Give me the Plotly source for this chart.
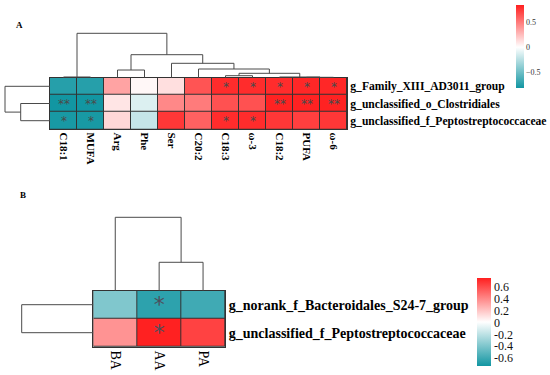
import plotly.graph_objects as go

# ---------------- data ----------------
colsA = ["C18:1", "MUFA", "Arg", "Phe", "Ser", "C20:2", "C18:3", "ω-3", "C18:2", "PUFA", "ω-6"]
rowsA = ["g_Family_XIII_AD3011_group", "g_unclassified_o_Clostridiales",
         "g_unclassified_f_Peptostreptococcaceae"]
valsA = [
    [-0.75, -0.75, 0.35, 0.03, 0.12, 0.65, 0.80, 0.80, 0.80, 0.82, 0.82],
    [-0.84, -0.84, 0.10, -0.12, 0.45, 0.50, 0.66, 0.66, 0.84, 0.84, 0.84],
    [-0.80, -0.80, 0.15, -0.20, 0.76, 0.60, 0.80, 0.80, 0.76, 0.73, 0.76],
]
starsA = [
    ["", "", "", "", "", "", "*", "*", "*", "*", "*"],
    ["**", "**", "", "", "", "", "", "", "**", "**", "**"],
    ["*", "*", "", "", "", "", "*", "*", "", "", ""],
]
# linkage: (left, right, height); ints refer to earlier merges (by index)
colLinkA = [("C18:1", "MUFA", 0.016), ("PUFA", "ω-6", 0.009), ("C18:2", 1, 0.016),
            ("C18:3", "ω-3", 0.045), ("Arg", "Phe", 0.173), (3, 2, 0.099),
            ("C20:2", 5, 0.196), ("Ser", 6, 0.324), (4, 7, 0.518), (0, 8, 1.0)]
rowLinkA = [(rowsA[1], rowsA[2], 0.651), (rowsA[0], 0, 1.0)]

colsB = ["BA", "AA", "PA"]
rowsB = ["g_norank_f_Bacteroidales_S24-7_group", "g_unclassified_f_Peptostreptococcaceae"]
valsB = [
    [-0.40, -0.66, -0.60],
    [0.36, 0.74, 0.63],
]
starsB = [["", "*", ""], ["", "*", ""]]
colLinkB = [("AA", "PA", 0.387), ("BA", 0, 1.0)]
rowLinkB = [(rowsB[0], rowsB[1], 1.0)]

W, H = 550, 375
LOW, HIGH = "#1296a2", "#ff1f1f"
SERIF = "Liberation Serif"


def px_x(a, b):
    return [a / W, b / W]


def px_y(top, bottom):
    return [1 - bottom / H, 1 - top / H]


def dendro_lines(leaves, links):
    pos = {name: i for i, name in enumerate(leaves)}
    hgt = {name: 0.0 for name in leaves}
    xs, ys = [], []
    for k, (a, b, h) in enumerate(links):
        pa, pb = pos[a], pos[b]
        ha, hb = hgt[a], hgt[b]
        xs += [pa, pa, pb, pb, None]
        ys += [ha, h, h, hb, None]
        pos[k] = (pa + pb) / 2
        hgt[k] = h
    return xs, ys


def cscale(zmin, zmax):
    mid = -zmin / (zmax - zmin)
    return [[0, LOW], [mid, "#ffffff"], [1, HIGH]]


fig = go.Figure()

# ---------- Panel A ----------
zminA, zmaxA = -0.82, 0.85
fig.add_trace(go.Heatmap(
    z=valsA, x=list(range(len(colsA))), y=list(range(len(rowsA))),
    text=starsA, texttemplate="%{text}",
    textfont=dict(size=12, color="#4a4a4a", family="DejaVu Sans"),
    zmin=zminA, zmax=zmaxA, colorscale=cscale(zminA, zmaxA), xgap=1, ygap=1,
    hoverinfo="skip",
    colorbar=dict(x=516 / W, xanchor="left", xpad=0, ypad=0,
                  y=1 - 46.65 / H, yanchor="middle", len=83.3, lenmode="pixels",
                  thickness=8.3, outlinewidth=0, ticks="",
                  tickvals=[-0.5, 0, 0.5],
                  tickfont=dict(family=SERIF, size=8, color="#333")),
    xaxis="x", yaxis="y"))

xs, ys = dendro_lines(colsA, colLinkA)
fig.add_trace(go.Scatter(x=xs, y=ys, mode="lines", line=dict(color="#4a4a4a", width=1),
                         hoverinfo="skip", showlegend=False, xaxis="x2", yaxis="y2"))
ys, xs = dendro_lines(rowsA, rowLinkA)
fig.add_trace(go.Scatter(x=xs, y=ys, mode="lines", line=dict(color="#4a4a4a", width=1),
                         hoverinfo="skip", showlegend=False, xaxis="x3", yaxis="y3"))

# ---------- Panel B ----------
zminB, zmaxB = -0.745, 0.745
fig.add_trace(go.Heatmap(
    z=valsB, x=list(range(len(colsB))), y=list(range(len(rowsB))),
    text=starsB, texttemplate="%{text}",
    textfont=dict(size=22, color="#4d4f5c", family="DejaVu Sans"),
    zmin=zminB, zmax=zmaxB, colorscale=cscale(zminB, zmaxB), xgap=1, ygap=1,
    hoverinfo="skip",
    colorbar=dict(x=476.7 / W, xanchor="left", xpad=0, ypad=0,
                  y=1 - 322.5 / H, yanchor="middle", len=88.4, lenmode="pixels",
                  thickness=14, outlinewidth=0, ticks="",
                  tickvals=[-0.6, -0.4, -0.2, 0, 0.2, 0.4, 0.6],
                  ticktext=["-0.6", "-0.4", "-0.2", "0", "0.2", "0.4", "0.6"],
                  tickfont=dict(family=SERIF, size=12, color="#111")),
    xaxis="x4", yaxis="y4"))

xs, ys = dendro_lines(colsB, colLinkB)
fig.add_trace(go.Scatter(x=xs, y=ys, mode="lines", line=dict(color="#4a4a4a", width=1),
                         hoverinfo="skip", showlegend=False, xaxis="x5", yaxis="y5"))
ys, xs = dendro_lines(rowsB, rowLinkB)
fig.add_trace(go.Scatter(x=xs, y=ys, mode="lines", line=dict(color="#4a4a4a", width=1),
                         hoverinfo="skip", showlegend=False, xaxis="x6", yaxis="y6"))

hidden = dict(visible=False, showgrid=False, zeroline=False, fixedrange=True)
frame = dict(showline=True, mirror=True, linecolor="#333", linewidth=1,
             showgrid=False, zeroline=False, ticks="", fixedrange=True)

fig.update_layout(
    width=W, height=H, margin=dict(l=0, r=0, t=0, b=0),
    paper_bgcolor="white", plot_bgcolor="white", showlegend=False,
    # panel A heatmap
    xaxis=dict(domain=px_x(50, 347), range=[-0.5, len(colsA) - 0.5], anchor="y",
               tickvals=list(range(len(colsA))), ticktext=colsA, tickangle=90,
               tickfont=dict(family=SERIF, size=11, color="black", weight="bold"),
               **frame),
    yaxis=dict(domain=px_y(77.7, 129.3), range=[len(rowsA) - 0.5, -0.5], anchor="x",
               side="right", tickvals=list(range(len(rowsA))), ticktext=rowsA,
               tickfont=dict(family=SERIF, size=11.6, color="black", weight="bold"),
               **frame),
    xaxis2=dict(domain=px_x(50, 347), range=[-0.5, len(colsA) - 0.5], anchor="y2", **hidden),
    yaxis2=dict(domain=px_y(77.7 - 44.4 * 1.05, 77.7), range=[0, 1.05], anchor="x2", **hidden),
    xaxis3=dict(domain=px_x(50 - 45 * 1.05, 50), range=[1.05, 0], anchor="y3", **hidden),
    yaxis3=dict(domain=px_y(77.7, 129.3), range=[len(rowsA) - 0.5, -0.5], anchor="x3", **hidden),
    # panel B heatmap
    xaxis4=dict(domain=px_x(93.3, 225), range=[-0.5, len(colsB) - 0.5], anchor="y4",
                tickvals=list(range(len(colsB))), ticktext=colsB, tickangle=90,
                tickfont=dict(family=SERIF, size=14, color="black"),
                **frame),
    yaxis4=dict(domain=px_y(290.7, 346.7), range=[len(rowsB) - 0.5, -0.5], anchor="x4",
                side="right", tickvals=list(range(len(rowsB))), ticktext=rowsB,
                tickfont=dict(family=SERIF, size=14, color="black", weight="bold"),
                **frame),
    xaxis5=dict(domain=px_x(93.3, 225), range=[-0.5, len(colsB) - 0.5], anchor="y5", **hidden),
    yaxis5=dict(domain=px_y(290.7 - 73.4 * 1.05, 290.7), range=[0, 1.05], anchor="x5", **hidden),
    xaxis6=dict(domain=px_x(93.3 - 71.6 * 1.05, 93.3), range=[1.05, 0], anchor="y6", **hidden),
    yaxis6=dict(domain=px_y(290.7, 346.7), range=[len(rowsB) - 0.5, -0.5], anchor="x6", **hidden),
    shapes=[
        dict(type="rect", xref="x domain", yref="y domain", x0=0, x1=1, y0=0, y1=1,
             fillcolor="#333", line=dict(width=0), layer="below"),
        dict(type="rect", xref="x4 domain", yref="y4 domain", x0=0, x1=1, y0=0, y1=1,
             fillcolor="#333", line=dict(width=0), layer="below"),
    ],
    annotations=[
        dict(text="A", x=14 / W, y=1 - 25 / H, xref="paper", yref="paper",
             xanchor="left", yanchor="middle", showarrow=False,
             font=dict(family=SERIF, size=9, color="black", weight="bold")),
        dict(text="B", x=18 / W, y=1 - 195 / H, xref="paper", yref="paper",
             xanchor="left", yanchor="middle", showarrow=False,
             font=dict(family=SERIF, size=9, color="black", weight="bold")),
    ],
)

fig.write_html("out.html", config={"displayModeBar": False},
               post_script="document.body.style.margin='0px';")
